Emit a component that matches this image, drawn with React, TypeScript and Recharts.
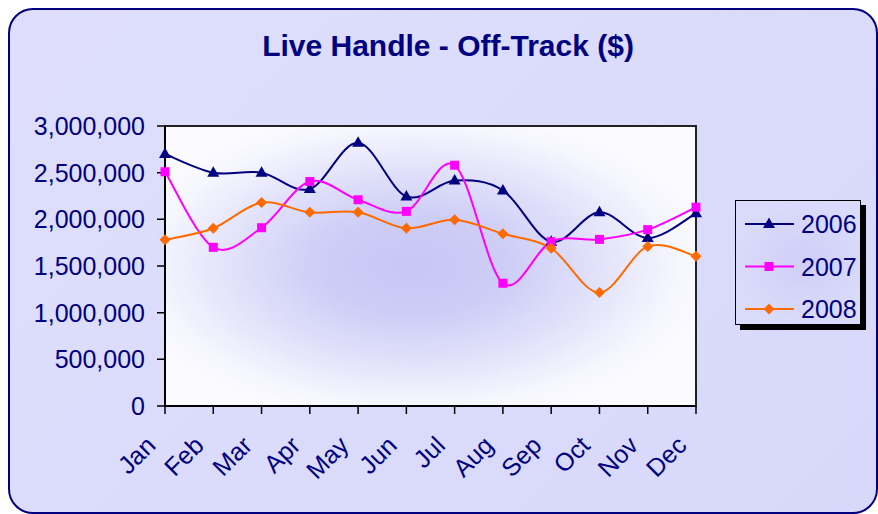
import {
  CartesianGrid,
  Legend,
  Line,
  LineChart,
  ReferenceArea,
  XAxis,
  YAxis,
} from "recharts";

const months = ["Jan", "Feb", "Mar", "Apr", "May", "Jun", "Jul", "Aug", "Sep", "Oct", "Nov", "Dec"];
const handle2006 = [2700000, 2500000, 2500000, 2325000, 2820000, 2245000, 2415000, 2310000, 1760000, 2075000, 1800000, 2065000];
const handle2007 = [2510000, 1700000, 1910000, 2405000, 2210000, 2085000, 2580000, 1315000, 1760000, 1785000, 1890000, 2130000];
const handle2008 = [1780000, 1905000, 2180000, 2075000, 2075000, 1905000, 1995000, 1845000, 1690000, 1215000, 1710000, 1605000];
const yTicks = [0, 500000, 1000000, 1500000, 2000000, 2500000, 3000000];

const data = months.map((month, i) => ({
  month,
  y2006: handle2006[i],
  y2007: handle2007[i],
  y2008: handle2008[i],
}));

const NAVY = "#000080";
const FONT = "'Liberation Sans', Arial, sans-serif";

type Shape = "triangle" | "square" | "diamond";

const series: { key: string; name: string; color: string; shape: Shape }[] = [
  { key: "y2006", name: "2006", color: "#000080", shape: "triangle" },
  { key: "y2007", name: "2007", color: "#ff00ff", shape: "square" },
  { key: "y2008", name: "2008", color: "#ff6a00", shape: "diamond" },
];

// excel-ish smoothing: catmull-rom turned into beziers
const smoothCurve = (ctx: any) => {
  let pts: number[][] = [];
  return {
    areaStart() {},
    areaEnd() {},
    lineStart() {
      pts = [];
    },
    point(x: number, y: number) {
      pts.push([+x, +y]);
    },
    lineEnd() {
      const n = pts.length;
      if (!n) return;
      ctx.moveTo(pts[0][0], pts[0][1]);
      for (let i = 0; i < n - 1; i++) {
        const p0 = pts[Math.max(0, i - 1)];
        const p1 = pts[i];
        const p2 = pts[i + 1];
        const p3 = pts[Math.min(n - 1, i + 2)];
        ctx.bezierCurveTo(
          p1[0] + (p2[0] - p0[0]) / 6,
          p1[1] + (p2[1] - p0[1]) / 6,
          p2[0] - (p3[0] - p1[0]) / 6,
          p2[1] - (p3[1] - p1[1]) / 6,
          p2[0],
          p2[1]
        );
      }
    },
  };
};

function Marker({ cx, cy, shape, color }: { cx: number; cy: number; shape: Shape; color: string }) {
  if (cx == null || cy == null) return null;
  if (shape === "triangle") {
    return <polygon points={`${cx},${cy - 6.5} ${cx + 6},${cy + 4} ${cx - 6},${cy + 4}`} fill={color} />;
  }
  if (shape === "square") {
    return <rect x={cx - 4.5} y={cy - 4.5} width={9} height={9} fill={color} />;
  }
  return <polygon points={`${cx},${cy - 5.5} ${cx + 5.5},${cy} ${cx},${cy + 5.5} ${cx - 5.5},${cy}`} fill={color} />;
}

function MonthTick({ x, y, payload }: any) {
  const tx = x - 8;
  const ty = y + 31;
  return (
    <text
      x={tx}
      y={ty}
      transform={`rotate(-45, ${tx}, ${ty})`}
      textAnchor="end"
      fill={NAVY}
      fontSize={25}
      fontFamily={FONT}
    >
      {payload.value}
    </text>
  );
}

function LegendBox() {
  return (
    <div
      style={{
        width: 124,
        height: 123,
        border: "1.5px solid #000",
        background: "radial-gradient(ellipse at 55% 50%, #cfcff8 0%, #dadafb 70%)",
        boxShadow: "5px 5px 0 #000",
        fontFamily: FONT,
      }}
    >
      <svg width={124} height={123}>
        {series.map((s, i) => {
          const cy = 23 + i * 42.5;
          return (
            <g key={s.key}>
              <line x1={9} x2={58} y1={cy} y2={cy} stroke={s.color} strokeWidth={2} />
              <Marker cx={33} cy={cy} shape={s.shape} color={s.color} />
              <text x={65} y={cy} dy="0.36em" fontSize={25} fill={NAVY} fontFamily={FONT}>
                {s.name}
              </text>
            </g>
          );
        })}
      </svg>
    </div>
  );
}

export default function App() {
  return (
    <div
      style={{
        position: "absolute",
        left: 8,
        top: 8,
        width: 866,
        height: 502,
        border: "2px solid #000080",
        borderRadius: 25,
        background: "linear-gradient(135deg, #dedefc 0%, #d8d8fb 100%)",
        overflow: "hidden",
      }}
    >
      <div
        style={{
          position: "absolute",
          left: 138,
          width: 600,
          top: 21,
          textAlign: "center",
          fontFamily: FONT,
          fontWeight: "bold",
          fontSize: 30,
          lineHeight: "30px",
          color: NAVY,
        }}
      >
        Live Handle - Off-Track ($)
      </div>
      <LineChart
        width={866}
        height={502}
        data={data}
        margin={{ top: 116, right: 180, bottom: 0, left: 0 }}
        style={{ position: "absolute", left: 0, top: 0 }}
      >
        <defs>
          <radialGradient id="plotBg" cx="0.47" cy="0.5" r="0.58">
            <stop offset="0" stopColor="#c7c7f6" />
            <stop offset="0.3" stopColor="#cdcdf7" />
            <stop offset="0.6" stopColor="#e2e2fb" />
            <stop offset="0.85" stopColor="#f6f6fe" />
            <stop offset="1" stopColor="#fbfbff" />
          </radialGradient>
        </defs>
        <CartesianGrid horizontal={false} vertical={false} fill="url(#plotBg)" />
        <ReferenceArea
          x1="Jan"
          x2="Dec"
          y1={0}
          y2={3000000}
          fill="none"
          stroke="#222"
          strokeWidth={2}
          ifOverflow="visible"
        />
        <XAxis
          dataKey="month"
          scale="point"
          padding={{ left: 0, right: 0 }}
          interval={0}
          height={106}
          tickSize={8}
          tickMargin={2}
          axisLine={{ stroke: "#000", strokeWidth: 2 }}
          tickLine={{ stroke: "#000", strokeWidth: 1.5 }}
          tick={<MonthTick />}
        />
        <YAxis
          width={155}
          domain={[0, 3000000]}
          ticks={yTicks}
          interval={0}
          tickSize={8}
          tickMargin={12}
          tickFormatter={(v: number) => v.toLocaleString("en-US")}
          axisLine={{ stroke: "#000", strokeWidth: 2 }}
          tickLine={{ stroke: "#000", strokeWidth: 1.5 }}
          tick={{ fill: NAVY, fontSize: 25, fontFamily: FONT }}
        />
        <Legend
          layout="vertical"
          align="center"
          verticalAlign="middle"
          wrapperStyle={{ left: 725, top: 190, width: 130, height: 130 }}
          content={() => <LegendBox />}
        />
        {series.map((s) => (
          <Line
            key={s.key}
            dataKey={s.key}
            name={s.name}
            type={smoothCurve as any}
            stroke={s.color}
            strokeWidth={2}
            isAnimationActive={false}
            dot={(p: any) => <Marker key={`${s.key}-${p.index}`} cx={p.cx} cy={p.cy} shape={s.shape} color={s.color} />}
            activeDot={false}
          />
        ))}
      </LineChart>
    </div>
  );
}
